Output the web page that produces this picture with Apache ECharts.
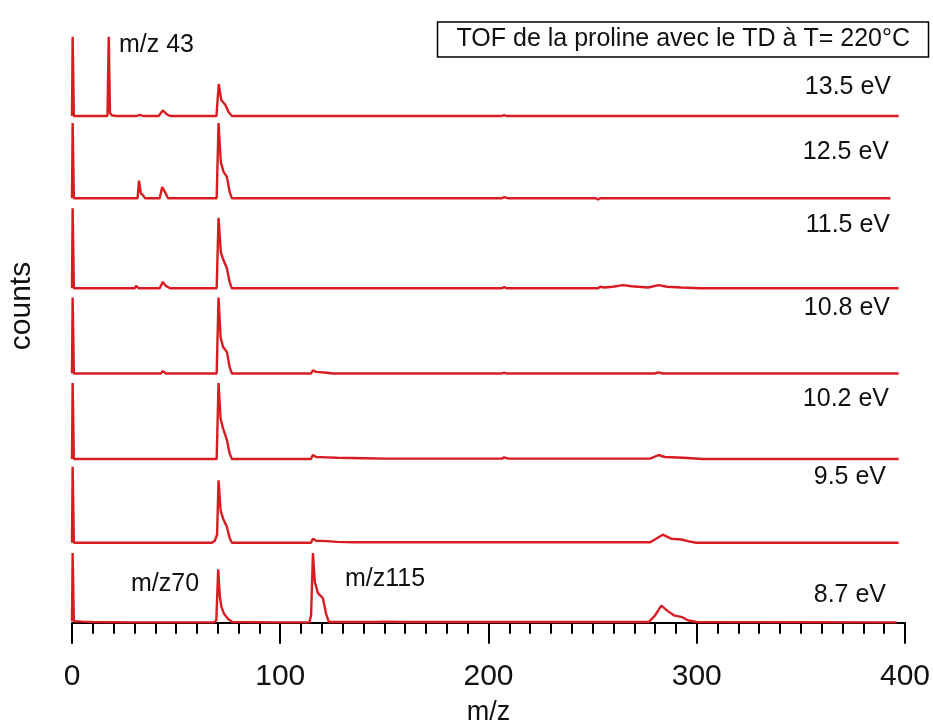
<!DOCTYPE html>
<html>
<head>
<meta charset="utf-8">
<script src="https://cdn.jsdelivr.net/npm/echarts@6/dist/echarts.min.js"></script>
<style>html,body{margin:0;padding:0;background:#fff}#c{width:933px;height:727px}</style>
</head>
<body>
<div id="c"></div>
<script>
// ---- data: [m/z, counts (relative, per panel)] ----
const energies = ['13.5 eV', '12.5 eV', '11.5 eV', '10.8 eV', '10.2 eV', '9.5 eV', '8.7 eV'];
const xTicks = [0, 100, 200, 300, 400];

const s13_5 = [[0,0],[0.3,99],[0.9,0],[17,0],[17.6,99],[18.2,4],[19,1],[21,0],[31,0],[32.5,1.5],[34,0],[41.5,0],[43.5,7],[45.5,2],[47,0],[69.2,0],[70.3,40],[71.5,20],[73.4,14],[75,5],[76.6,0],[206,0],[207,1],[208,0],[396,0]];
const s12_5 = [[0,0],[0.3,94],[0.9,0],[3.5,0],[4,2],[4.5,0],[31.4,0],[32.1,22],[33,6],[34,4],[35,0],[42,0],[43.2,14],[44.5,8],[46,0],[69.3,0],[70.2,94],[71.3,45],[72.6,33],[74.2,27],[75.5,8],[76.6,0],[115,0],[115.7,1.5],[117,0],[206,0],[207,1.5],[209,0],[251,0],[252,-1.5],[253,0],[392,0]];
const s11_5 = [[0,0],[0.3,100],[0.9,0],[30,0],[30.7,3],[32,0],[42,0],[43.5,8],[45,3],[47,0],[69.3,0],[70.2,88],[71.3,45],[72.6,35],[74.2,25],[75.5,8],[76.6,0],[115,0],[115.7,1.5],[117,0],[206,0],[207,1.5],[208.5,0],[252,0],[253,2],[255,1],[259,2],[264,4],[268,2.5],[276,1],[281,4],[285,2],[292,1],[301,0],[396,0]];
const s10_8 = [[0,0],[0.3,95],[0.9,0],[42.5,0],[43.5,3],[45,0],[69.3,0],[70.2,95],[71.2,45],[72.4,33],[74.2,27],[75.5,8],[76.6,0],[114.5,0],[115.4,4],[117,2],[122,1],[125,0],[206,0],[207,1],[208,0],[279,0],[281,1.5],[283,0],[396,0]];
const s10_2 = [[0,0],[0.3,95],[0.9,0],[69.3,0],[70.2,95],[71.2,50],[72.4,38],[74.2,24],[75.5,7],[76.6,0],[114.5,0],[115.4,5],[117,2.5],[122,2],[127,1.5],[140,1],[150,0.5],[206,0.5],[207,2],[209,0.5],[277,0.5],[281,5],[284,2.5],[293,1.5],[302,0],[396,0]];
const s9_5 = [[0,0],[0.3,95],[0.9,0],[67,0],[68.4,2.5],[69.5,10],[70.2,78],[71.2,40],[72.4,30],[74.2,20],[75.5,6],[76.6,0],[114.5,0],[115.4,5],[117,2.5],[122,2],[127,1],[135,0.5],[277,0.5],[283,10],[287,5],[292,4],[295,2],[299,0],[396,0]];
const s8_7 = [[0,2],[0.3,94],[0.9,2],[5,1.5],[10,1],[30,0.5],[68,0.5],[69.3,3],[70.2,72],[71,35],[71.8,21],[73,12],[75,5],[77,1],[100,0.5],[114,0.5],[114.8,10],[115.7,94],[116.6,55],[118.1,40],[120.5,33],[122,12],[123.4,1],[146,1],[150,1.5],[160,1],[277,1],[280,10],[283,23],[286,16],[289,10],[293,7.5],[296,3],[300,1],[396,0.5]];
const spectra = [s13_5, s12_5, s11_5, s10_8, s10_2, s9_5, s8_7];

// ---- layout ----
const FONT = 'Liberation Sans, Arial, sans-serif';
const RED = '#d81c22';
const baselines = [116, 198.3, 288.3, 373.5, 459, 542.7, 628.5];
const labelY = [89, 154, 227, 310, 401, 479, 597];
const labelRight = [891, 889, 890, 890, 889, 886, 886];

const grids = [], xAxes = [], yAxes = [], series = [], graphics = [];
spectra.forEach((d, i) => {
  const B = baselines[i];
  grids.push({left: 72, right: 26, top: B - 80, height: 82.4});
  const last = i === spectra.length - 1;
  xAxes.push({
    gridIndex: i, type: 'value', min: 0, max: 400, interval: 100,
    show: last,
    axisLine: {show: true, lineStyle: {color: '#000', width: 2}},
    axisTick: {show: true, length: 21, lineStyle: {color: '#000', width: 2}},
    minorTick: {show: true, splitNumber: 10, length: 11, lineStyle: {color: '#000', width: 2}},
    splitLine: {show: false},
    axisLabel: {show: true, fontSize: 30, margin: 37, color: '#111', fontFamily: FONT},
    name: last ? 'm/z' : '', nameLocation: 'middle', nameGap: 74,
    nameTextStyle: {fontSize: 27, color: '#111', fontFamily: FONT}
  });
  yAxes.push({gridIndex: i, type: 'value', min: -3, max: 100, show: false});
  series.push({
    type: 'line', xAxisIndex: i, yAxisIndex: i, data: d,
    showSymbol: false, symbol: 'none', clip: false,
    lineStyle: {color: RED, width: 2.4}, animation: false
  });
  graphics.push({
    type: 'text', right: 933 - labelRight[i], top: labelY[i] - 14,
    style: {text: energies[i], fontSize: 25, fill: '#111', fontFamily: FONT}
  });
});

graphics.push({type: 'text', left: 119, top: 33, style: {text: 'm/z 43', fontSize: 25, fill: '#111', fontFamily: FONT}});
graphics.push({type: 'text', left: 131, top: 572, style: {text: 'm/z70', fontSize: 25, fill: '#111', fontFamily: FONT}});
graphics.push({type: 'text', left: 345, top: 567, style: {text: 'm/z115', fontSize: 25, fill: '#111', fontFamily: FONT}});
graphics.push({type: 'text', x: 22, y: 306, rotation: Math.PI / 2,
  style: {text: 'counts', fontSize: 30, fill: '#111', fontFamily: FONT, align: 'center', verticalAlign: 'middle'}});

const chart = echarts.init(document.getElementById('c'), null, {renderer: 'canvas'});
chart.setOption({
  animation: false,
  backgroundColor: '#fff',
  title: {
    text: 'TOF de la proline avec le TD à T= 220°C',
    right: 4, top: 22, padding: [5, 19],
    borderColor: '#000', borderWidth: 1.5,
    textStyle: {fontSize: 25, fontWeight: 'normal', color: '#111', fontFamily: FONT}
  },
  grid: grids, xAxis: xAxes, yAxis: yAxes, series: series, graphic: graphics
});
</script>
</body>
</html>
